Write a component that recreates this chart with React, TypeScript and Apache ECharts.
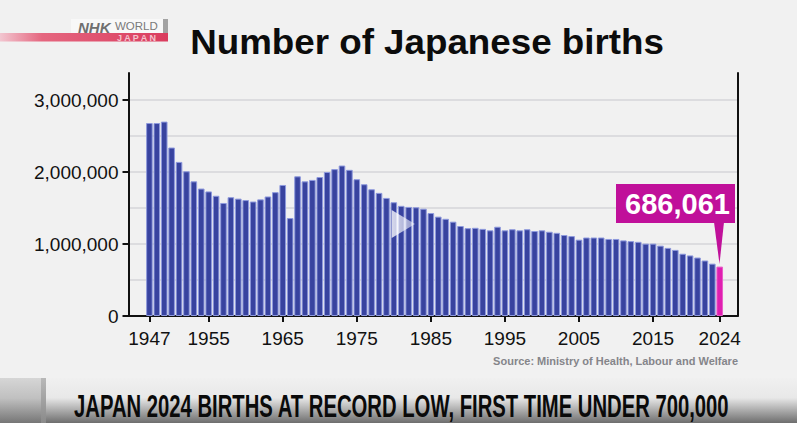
import React, { useEffect, useRef } from "react";
import * as echarts from "echarts";

const years: number[] = [
  1947, 1948, 1949, 1950, 1951, 1952, 1953, 1954, 1955, 1956, 1957, 1958, 1959, 1960, 1961, 1962,
  1963, 1964, 1965, 1966, 1967, 1968, 1969, 1970, 1971, 1972, 1973, 1974, 1975, 1976, 1977, 1978,
  1979, 1980, 1981, 1982, 1983, 1984, 1985, 1986, 1987, 1988, 1989, 1990, 1991, 1992, 1993, 1994,
  1995, 1996, 1997, 1998, 1999, 2000, 2001, 2002, 2003, 2004, 2005, 2006, 2007, 2008, 2009, 2010,
  2011, 2012, 2013, 2014, 2015, 2016, 2017, 2018, 2019, 2020, 2021, 2022, 2023, 2024,
];
const births: number[] = [
  2680000, 2680000, 2700000, 2340000, 2140000, 2010000, 1870000, 1770000, 1730000, 1670000, 1570000,
  1650000, 1630000, 1610000, 1590000, 1620000, 1660000, 1720000, 1820000, 1360000, 1940000, 1870000,
  1890000, 1930000, 2000000, 2040000, 2090000, 2030000, 1900000, 1830000, 1760000, 1710000, 1640000,
  1580000, 1530000, 1515000, 1510000, 1490000, 1430000, 1380000, 1350000, 1310000, 1250000, 1220000,
  1225000, 1210000, 1190000, 1240000, 1190000, 1205000, 1190000, 1205000, 1180000, 1190000, 1170000,
  1155000, 1125000, 1110000, 1060000, 1090000, 1090000, 1090000, 1070000, 1070000, 1050000, 1040000,
  1030000, 1005000, 1005000, 977000, 946000, 918000, 865000, 841000, 812000, 771000, 727000, 686061,
];
const xTickYears: number[] = [1947, 1955, 1965, 1975, 1985, 1995, 2005, 2015, 2024];
const yTickValues: number[] = [0, 1000000, 2000000, 3000000];
const titleText = "Number of Japanese births";
const sourceText = "Source: Ministry of Health, Labour and Welfare";
const calloutText = "686,061";
const bannerText = "JAPAN 2024 BIRTHS AT RECORD LOW, FIRST TIME UNDER 700,000";

const SANS = "'Liberation Sans', Arial, sans-serif";

export default function App() {
  const ref = useRef<HTMLDivElement>(null);
  useEffect(() => {
    document.body.style.margin = "0";
    const chart = echarts.init(ref.current!, undefined, { renderer: "svg" });
    const lastYear = years[years.length - 1];
    const graphicItems: any[] = [
      // NHK logo
      {
        type: "rect",
        shape: { x: 71, y: 19, width: 97, height: 14 },
        style: { fill: "#f8f8f8" },
      },
      { type: "rect", shape: { x: 163, y: 19, width: 5, height: 14 }, style: { fill: "#a3a3a3" } },
      {
        type: "rect",
        shape: { x: 0, y: 33, width: 168, height: 8.5 },
        style: {
          fill: new echarts.graphic.LinearGradient(0, 0, 1, 0, [
            { offset: 0, color: "#f2c6d0" },
            { offset: 0.25, color: "#e5667f" },
            { offset: 1, color: "#da3c5e" },
          ]),
        },
      },
      {
        type: "text",
        style: { text: "NHK", x: 78, y: 19.5, fill: "#6f6f6f", font: `italic bold 15px ${SANS}` },
      },
      {
        type: "text",
        style: { text: "WORLD", x: 115, y: 20, fill: "#7a7a7a", font: `11.5px ${SANS}` },
      },
      {
        type: "text",
        style: { text: "J A P A N", x: 117, y: 33.5, fill: "#f4c2cd", font: `bold 9px ${SANS}` },
      },
      // Title
      {
        type: "text",
        x: 427,
        y: 42,
        scaleX: 1.05,
        style: {
          text: titleText,
          x: 0,
          y: 0,
          align: "center",
          verticalAlign: "middle",
          fill: "#0c0c0c",
          font: `bold 35px ${SANS}`,
        },
      },
      // Source
      {
        type: "text",
        style: {
          text: sourceText,
          x: 738,
          y: 361,
          align: "right",
          verticalAlign: "middle",
          fill: "#85858a",
          font: `bold 11px ${SANS}`,
        },
      },
      // Callout
      {
        type: "polygon",
        shape: { points: [[714, 222], [724, 222], [719.5, 264]] },
        style: { fill: "#c0109a" },
      },
      {
        type: "rect",
        shape: { x: 616, y: 184, width: 119, height: 39 },
        style: { fill: "#c0109a" },
      },
      {
        type: "text",
        style: {
          text: calloutText,
          x: 677.5,
          y: 204,
          align: "center",
          verticalAlign: "middle",
          fill: "#ffffff",
          font: `bold 29px ${SANS}`,
        },
      },
      // Play marker
      {
        type: "polygon",
        shape: { points: [[391.7, 210], [391.7, 238], [415, 224]] },
        style: {
          fill: new echarts.graphic.LinearGradient(0, 0, 1, 0, [
            { offset: 0, color: "rgba(255,255,255,0.8)" },
            { offset: 1, color: "rgba(255,255,255,0.45)" },
          ]),
        },
      },
      // Bottom banner
      {
        type: "rect",
        shape: { x: 0, y: 378, width: 797, height: 45 },
        style: {
          fill: new echarts.graphic.LinearGradient(0, 0, 0, 1, [
            { offset: 0, color: "#f0f0f0" },
            { offset: 0.44, color: "#e8e8e8" },
            { offset: 1, color: "#6e6e6e" },
          ]),
        },
      },
      {
        type: "rect",
        shape: { x: 0, y: 378, width: 41, height: 45 },
        style: {
          fill: new echarts.graphic.LinearGradient(0, 0, 0, 1, [
            { offset: 0, color: "#d6d6d6" },
            { offset: 0.45, color: "#c0c0c0" },
            { offset: 1, color: "#767676" },
          ]),
        },
      },
      {
        type: "rect",
        shape: { x: 41, y: 378, width: 5, height: 45 },
        style: {
          fill: new echarts.graphic.LinearGradient(0, 0, 0, 1, [
            { offset: 0, color: "#b8b8b8" },
            { offset: 1, color: "#8a8a8a" },
          ]),
        },
      },
      {
        type: "text",
        x: 74,
        y: 406,
        scaleX: 0.66,
        style: {
          text: bannerText,
          x: 0,
          y: 0,
          verticalAlign: "middle",
          fill: "#0a0a0a",
          font: `bold 30.7px ${SANS}`,
        },
      },
    ];
    chart.setOption({
      animation: false,
      backgroundColor: "#f1f1f1",
      grid: { left: 128.5, right: 59.5, top: 73, bottom: 107 },
      xAxis: {
        type: "value",
        min: 1944.176,
        max: 2026.4,
        splitLine: { show: false },
        axisLine: { show: true, onZero: false, lineStyle: { color: "#111", width: 2 } },
        axisTick: { show: true, customValues: xTickYears, length: 6, lineStyle: { color: "#111", width: 2 } },
        axisLabel: {
          customValues: xTickYears,
          formatter: (v: number) => String(v),
          color: "#111",
          fontFamily: SANS,
          fontSize: 19,
          margin: 13,
        },
      },
      yAxis: [
        {
          type: "value",
          min: 0,
          max: 3375000,
          splitLine: { show: false },
          axisLine: { show: true, lineStyle: { color: "#111", width: 2 } },
          axisTick: { show: true, customValues: yTickValues, length: 6, lineStyle: { color: "#111", width: 2 } },
          axisLabel: {
            customValues: yTickValues,
            formatter: (v: number) => v.toLocaleString("en-US"),
            color: "#111",
            fontFamily: SANS,
            fontSize: 19,
            margin: 10,
          },
        },
        {
          type: "value",
          position: "right",
          min: 0,
          max: 3375000,
          interval: 500000,
          splitLine: { show: true, showMaxLine: false, lineStyle: { color: "#dcdcdf", width: 2 } },
          axisLine: { show: true, lineStyle: { color: "#111", width: 2 } },
          axisTick: { show: false },
          axisLabel: { show: false },
        },
      ],
      series: [
        {
          type: "bar",
          barWidth: 6.6,
          itemStyle: { color: "#38439f", borderColor: "#8e99dd", borderWidth: 1 },
          data: years.map((y, i) => ({
            value: [y, births[i]],
            itemStyle:
              y === lastYear
                ? { color: "#e01fb0", borderColor: "#e85cc8", borderWidth: 1 }
                : undefined,
          })),
        },
      ],
      graphic: graphicItems.map((g) => ({ ...g, z: 50 })),
    });
    return () => chart.dispose();
  }, []);
  return (
    <div
      ref={ref}
      style={{ position: "absolute", left: 0, top: 0, width: 797, height: 423 }}
    />
  );
}
